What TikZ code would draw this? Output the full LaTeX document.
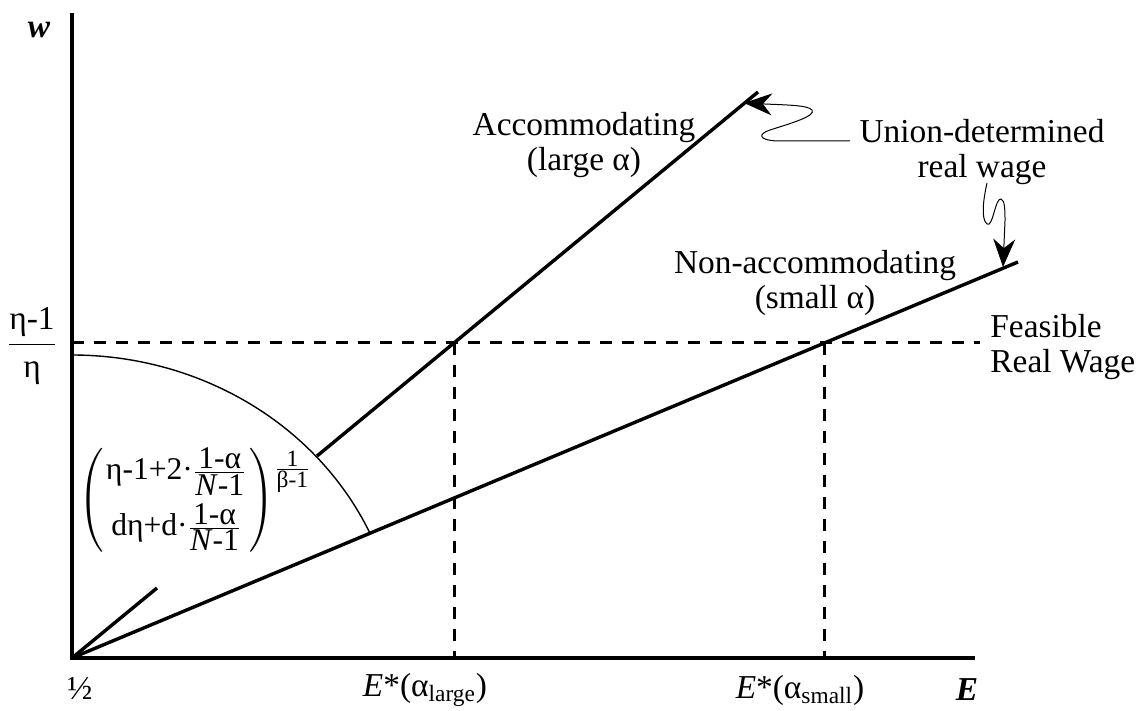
\documentclass[tikz,border=0pt]{standalone}
\usepackage{amsmath}
\usepackage{fontspec}
\setmainfont{Liberation Serif}
\usetikzlibrary{arrows.meta}

\begin{document}
\begin{tikzpicture}[
    x=0.5pt, y=0.5pt,
    axis/.style={line width=2pt},
    schedule/.style={line width=1.7pt},
    guide/.style={line width=1.5pt, dash pattern=on 6pt off 5pt},
    frontier/.style={line width=0.7pt},
    pointer/.style={line width=0.5pt, -{Stealth[length=14pt, width=11pt]}},
    lbl/.style={font=\fontsize{16.7pt}{17.5pt}\selectfont, align=center, inner sep=0pt}
]
    \useasboundingbox (0,0) rectangle (1147,711);

    % axes
    \coordinate (origin) at (72,53);
    \coordinate (wtop) at (72,698);
    \coordinate (eend) at (975,53);
    \draw[axis] (wtop) -- (origin) -- (eend);

    % wage schedules
    \coordinate (accomstub) at (157,123);
    \coordinate (accomlow) at (317,255);
    \coordinate (accomtop) at (758,619);
    \coordinate (nonacctop) at (1018,449);
    \draw[schedule] (origin) -- (accomstub);
    \draw[schedule] (accomlow) -- (accomtop);
    \draw[schedule] (origin) -- (nonacctop);

    % employment frontier
    \draw[frontier] plot[domain=24.3:90, samples=60] ({72+327*cos(\x)},{53+303*sin(\x)});

    % feasible real wage
    \coordinate (wfeas) at (72,368);
    \coordinate (feasend) at (980,368);
    \coordinate (elargetop) at (454,368);
    \coordinate (elargefoot) at (454,53);
    \coordinate (esmalltop) at (824,368);
    \coordinate (esmallfoot) at (824,53);
    \draw[guide] (wfeas) -- (feasend);
    \draw[guide] (elargetop) -- (elargefoot);
    \draw[guide] (esmalltop) -- (esmallfoot);

    % labels
    \node[lbl] (wlbl) at (39,681) {\textbf{\textit{w}}};
    \node[lbl] (half) at (80,22) {½};
    \node[lbl] (elarge) at (425,21) {\textit{E}*(α\textsubscript{large})};
    \node[lbl] (esmall) at (800,21) {\textit{E}*(α\textsubscript{small})};
    \node[lbl] (elbl) at (967,21) {\textbf{\textit{E}}};
    \node[lbl] (feasval) at (32,365) {$\dfrac{\text{η-1}}{\text{η}}$};
    \node[lbl, font=\fontsize{15.8pt}{17pt}\selectfont, anchor=west] (ratio) at (78,211) {$\left(\genfrac{}{}{0pt}{0}{\mbox{η-1+2·}\frac{\mbox{1-α}}{\mbox{\textit{N}-1}}}{\mbox{dη+d·}\frac{\mbox{1-α}}{\mbox{\textit{N}-1}}}\right)\!\raisebox{16pt}{\fontsize{11.7pt}{12pt}\selectfont$\frac{\mbox{1}}{\mbox{β-1}}$}$};

    \node[lbl] (accomlbl) at (584,566) {Accommodating\\(large α)};
    \node[lbl] (unionlbl) at (982,559) {Union-determined\\real wage};
    \node[lbl] (nonacclbl) at (815,428) {Non-accommodating\\(small α)};
    \node[lbl, align=left, anchor=west] (feaslbl) at (990,364) {Feasible\\Real Wage};

    % pointers
    \coordinate (unionfoot) at (850,570);
    \coordinate (wagefoot) at (987,528);
    \coordinate (nonacctip) at (1003,444);
    \draw[pointer] (unionfoot) -- (777,570) .. controls (758,571) and (758,577) .. (770,581)
        .. controls (792,588) and (816,595) .. (812,601) .. controls (808,606) and (785,606) .. (744,608);
    \draw[pointer] (wagefoot) .. controls (983,510) and (981,492) .. (987,487)
        .. controls (993,483) and (995,513) .. (1001,512) .. controls (1005,511) and (1005,500) .. (1005,490) -- (nonacctip);
\end{tikzpicture}
\end{document}
